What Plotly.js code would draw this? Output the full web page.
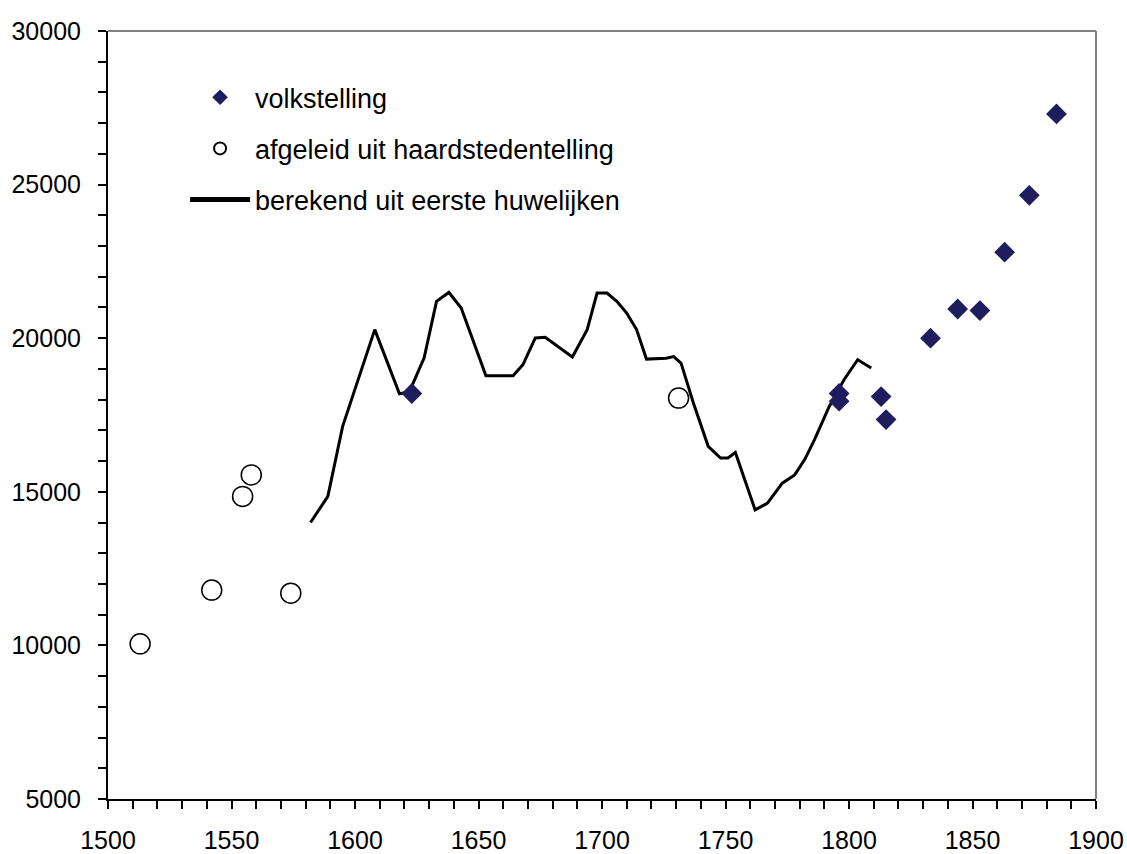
<!DOCTYPE html>
<html>
<head>
<meta charset="utf-8">
<script src="https://cdn.plot.ly/plotly-3.0.1.min.js"></script>
<style>html,body{margin:0;padding:0;background:#fff;}#chart{width:1127px;height:854px;}</style>
</head>
<body>
<div id="chart"></div>
<script>
// Volkstelling (census) points
const censusYears = [1623, 1796, 1796, 1813, 1815, 1833, 1844, 1853, 1863, 1873, 1884];
const censusValues = [18200, 18200, 17950, 18100, 17350, 20000, 20950, 20900, 22800, 24650, 27300];

// Afgeleid uit haardstedentelling
const hearthYears = [1513, 1542, 1554.5, 1558, 1574, 1731];
const hearthValues = [10050, 11800, 14850, 15550, 11700, 18050];

// Berekend uit eerste huwelijken
const marriageYears = [1582, 1589, 1593, 1595, 1608, 1618, 1622, 1628, 1633, 1638, 1643, 1653, 1664, 1668, 1673, 1677, 1688, 1694, 1698, 1702, 1706, 1710, 1714, 1718, 1726, 1729, 1732, 1737, 1743, 1748, 1751, 1754, 1762, 1767, 1773, 1778, 1782, 1786, 1792, 1798, 1803.5, 1809];
const marriageValues = [14000, 14850, 16370, 17130, 20280, 18190, 18250, 19360, 21200, 21490, 20980, 18780, 18780, 19140, 20010, 20030, 19390, 20280, 21470, 21470, 21200, 20820, 20280, 19320, 19350, 19400, 19190, 17890, 16480, 16100, 16100, 16280, 14410, 14630, 15280, 15550, 16040, 16690, 17780, 18650, 19300, 19030];

const seriesNames = ['volkstelling', 'afgeleid uit haardstedentelling', 'berekend uit eerste huwelijken'];
const xTickVals = [1500, 1550, 1600, 1650, 1700, 1750, 1800, 1850, 1900];
const yTickVals = [5000, 10000, 15000, 20000, 25000, 30000];

const FONT = '"Liberation Sans", Arial, sans-serif';

const traces = [
  {
    x: marriageYears, y: marriageValues, type: 'scatter', mode: 'lines',
    name: seriesNames[2], legendgroup: 'c', legendrank: 3,
    line: {color: '#000000', width: 3}
  },
  {
    x: hearthYears, y: hearthValues, type: 'scatter', mode: 'markers',
    name: seriesNames[1], legendgroup: 'b', legendrank: 2,
    marker: {symbol: 'circle-open', size: 20, color: '#000000', line: {width: 1.5, color: '#000000'}}
  },
  {
    x: censusYears, y: censusValues, type: 'scatter', mode: 'markers',
    name: seriesNames[0], legendgroup: 'a', legendrank: 1,
    marker: {symbol: 'diamond', size: 16, color: '#201d5e', line: {width: 0}}
  }
];

const layout = {
  width: 1127, height: 854,
  margin: {l: 108, r: 31, t: 31, b: 55, pad: 0},
  paper_bgcolor: '#ffffff', plot_bgcolor: '#ffffff',
  font: {family: FONT, color: '#000000', size: 25},
  showlegend: true,
  legend: {
    x: 0.078, y: 0.945, xanchor: 'left', yanchor: 'top',
    bgcolor: 'rgba(0,0,0,0)', borderwidth: 0,
    font: {family: FONT, size: 27, color: '#000000'},
    traceorder: 'grouped', tracegroupgap: 13, itemwidth: 60, itemsizing: 'constant'
  },
  xaxis: {
    range: [1500, 1900], tickmode: 'array', tickvals: xTickVals, ticktext: xTickVals.map(String),
    showgrid: false, zeroline: false, showline: true, linecolor: '#000000', linewidth: 2,
    ticks: 'outside', ticklen: 8, tickwidth: 2, tickcolor: '#000000',
    ticklabelstandoff: 10,
    tickfont: {family: FONT, size: 25, color: '#000000'},
    minor: {tickmode: 'linear', tick0: 1500, dtick: 10, ticks: 'outside', ticklen: 8, tickwidth: 2, tickcolor: '#000000', showgrid: false},
    fixedrange: true
  },
  yaxis: {
    range: [5000, 30000], tickmode: 'array', tickvals: yTickVals, ticktext: yTickVals.map(String),
    showgrid: false, zeroline: false, showline: true, linecolor: '#000000', linewidth: 2,
    ticks: 'outside', ticklen: 8, tickwidth: 2, tickcolor: '#000000',
    ticklabelstandoff: 12,
    tickfont: {family: FONT, size: 25, color: '#000000'},
    minor: {tickmode: 'linear', tick0: 5000, dtick: 1000, ticks: 'outside', ticklen: 8, tickwidth: 2, tickcolor: '#000000', showgrid: false},
    fixedrange: true
  },
  shapes: [
    {type: 'line', xref: 'paper', yref: 'paper', x0: 0, x1: 1, y0: 1, y1: 1, line: {color: '#808080', width: 2}},
    {type: 'line', xref: 'paper', yref: 'paper', x0: 1, x1: 1, y0: 0, y1: 1, line: {color: '#808080', width: 2}}
  ]
};

Plotly.newPlot('chart', traces, layout, {displayModeBar: false, staticPlot: true});
</script>
</body>
</html>
